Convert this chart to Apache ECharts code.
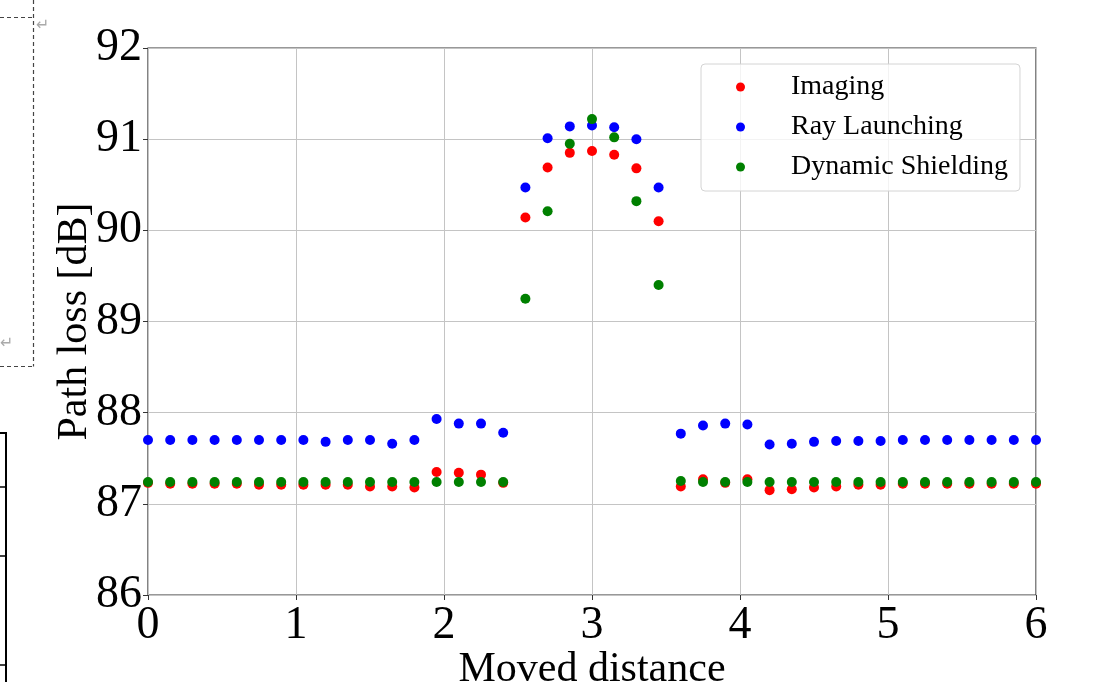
<!DOCTYPE html>
<html>
<head>
<meta charset="utf-8">
<script src="https://cdn.jsdelivr.net/npm/echarts@6/dist/echarts.min.js"></script>
<style>
  html, body { margin: 0; padding: 0; background: #fff; }
  #main { width: 1100px; height: 682px; }
</style>
</head>
<body>
<div id="main"></div>
<script>
// moved distance of each sample
const distances = [0, 0.15, 0.3, 0.45, 0.6, 0.75, 0.9, 1.05, 1.2, 1.35, 1.5, 1.65, 1.8, 1.95, 2.1, 2.25, 2.4,
  2.55, 2.7, 2.85, 3.0, 3.15, 3.3, 3.45, 3.6, 3.75, 3.9, 4.05, 4.2, 4.35, 4.5, 4.65, 4.8, 4.95, 5.1, 5.25,
  5.4, 5.55, 5.7, 5.85, 6.0]
// path loss [dB]
const imaging = [87.23, 87.22, 87.22, 87.22, 87.22, 87.21, 87.21, 87.21, 87.21, 87.21, 87.19, 87.19, 87.18, 87.35, 87.34, 87.32, 87.23,
  90.14, 90.69, 90.85, 90.87, 90.83, 90.68, 90.10,
  87.19, 87.27, 87.23, 87.27, 87.15, 87.16, 87.18, 87.19, 87.21, 87.21, 87.22, 87.22, 87.22, 87.22, 87.22, 87.22, 87.22]
const rayLaunching = [87.70, 87.70, 87.70, 87.70, 87.70, 87.70, 87.70, 87.70, 87.68, 87.70, 87.70, 87.66, 87.70, 87.93, 87.88, 87.88, 87.78,
  90.47, 91.01, 91.14, 91.15, 91.13, 91.00, 90.47,
  87.77, 87.86, 87.88, 87.87, 87.65, 87.66, 87.68, 87.69, 87.69, 87.69, 87.70, 87.70, 87.70, 87.70, 87.70, 87.70, 87.70]
const dynamicShielding = [87.24, 87.24, 87.24, 87.24, 87.24, 87.24, 87.24, 87.24, 87.24, 87.24, 87.24, 87.24, 87.24, 87.24, 87.24, 87.24, 87.24,
  89.25, 90.21, 90.95, 91.22, 91.02, 90.32, 89.40,
  87.25, 87.24, 87.24, 87.24, 87.24, 87.24, 87.24, 87.24, 87.24, 87.24, 87.24, 87.24, 87.24, 87.24, 87.24, 87.24, 87.24]
const seriesNames = ['Imaging', 'Ray Launching', 'Dynamic Shielding']
const seriesColors = ['#ff0000', '#0000ff', '#008000']

const font = 'Liberation Serif'
const chart = echarts.init(document.getElementById('main'))

function pairs(values) {
  return distances.map((d, i) => [d, values[i]])
}

const option = {
  backgroundColor: '#fff',
  animation: false,
  grid: {
    left: 148,
    right: 64,
    top: 48,
    bottom: 87,
    containLabel: false,
    outerBoundsMode: 'none',
    show: true,
    borderColor: '#333',
    borderWidth: 1.2
  },
  xAxis: {
    type: 'value',
    min: 0,
    max: 6,
    interval: 1,
    name: 'Moved distance',
    nameLocation: 'middle',
    nameGap: 54,
    nameMoveOverlap: false,
    nameTextStyle: { fontFamily: font, fontSize: 42, color: '#000' },
    axisLine: { show: false },
    axisTick: { show: true, length: 5, lineStyle: { color: '#333' } },
    axisLabel: { margin: 8, fontFamily: font, fontSize: 46, color: '#000' },
    splitLine: { show: true, lineStyle: { color: '#c4c4c4', width: 1 } }
  },
  yAxis: {
    type: 'value',
    min: 86,
    max: 92,
    interval: 1,
    name: 'Path loss [dB]',
    nameLocation: 'middle',
    nameGap: 52,
    nameMoveOverlap: false,
    nameTextStyle: { fontFamily: font, fontSize: 42, color: '#000' },
    axisLine: { show: false },
    axisTick: { show: true, length: 5, lineStyle: { color: '#333' } },
    axisLabel: { margin: 6, fontFamily: font, fontSize: 46, color: '#000' },
    splitLine: { show: true, lineStyle: { color: '#c4c4c4', width: 1 } }
  },
  legend: {
    orient: 'vertical',
    left: 701,
    top: 64,
    padding: [9, 12, 10, 35],
    itemGap: 12,
    itemWidth: 9,
    itemHeight: 9,
    icon: 'circle',
    borderColor: '#d4d4d4',
    borderWidth: 1,
    borderRadius: 4,
    backgroundColor: 'rgba(255,255,255,0.8)',
    textStyle: { fontFamily: font, fontSize: 28, color: '#000', lineHeight: 28, padding: [0, 0, 0, 41] },
    data: seriesNames
  },
  graphic: [
    // word-document frame remnants on the left edge
    { type: 'line', shape: { x1: 0, y1: 17.5, x2: 33.5, y2: 17.5 }, style: { stroke: '#444', lineWidth: 1.2, lineDash: [4, 3] } },
    { type: 'line', shape: { x1: 33.5, y1: 0, x2: 33.5, y2: 366.5 }, style: { stroke: '#444', lineWidth: 1.2, lineDash: [4, 3] } },
    { type: 'line', shape: { x1: 0, y1: 366.5, x2: 33.5, y2: 366.5 }, style: { stroke: '#444', lineWidth: 1.2, lineDash: [4, 3] } },
    { type: 'text', left: 36, top: 18, style: { text: '↵', fill: '#aaa', font: '16px DejaVu Sans' } },
    { type: 'text', left: 0, top: 336, style: { text: '↵', fill: '#aaa', font: '16px DejaVu Sans' } },
    { type: 'line', shape: { x1: 6, y1: 433, x2: 6, y2: 682 }, style: { stroke: '#000', lineWidth: 2 } },
    { type: 'line', shape: { x1: 0, y1: 433, x2: 7, y2: 433 }, style: { stroke: '#000', lineWidth: 2 } },
    { type: 'line', shape: { x1: 0, y1: 487, x2: 7, y2: 487 }, style: { stroke: '#000', lineWidth: 1.5 } },
    { type: 'line', shape: { x1: 0, y1: 556, x2: 7, y2: 556 }, style: { stroke: '#000', lineWidth: 1.5 } },
    { type: 'line', shape: { x1: 0, y1: 665, x2: 7, y2: 665 }, style: { stroke: '#000', lineWidth: 1.5 } }
  ],
  series: [imaging, rayLaunching, dynamicShielding].map((values, k) => ({
    name: seriesNames[k],
    type: 'scatter',
    symbol: 'circle',
    symbolSize: 10,
    itemStyle: { color: seriesColors[k], opacity: 1 },
    data: pairs(values)
  }))
}

chart.setOption(option)
</script>
</body>
</html>
